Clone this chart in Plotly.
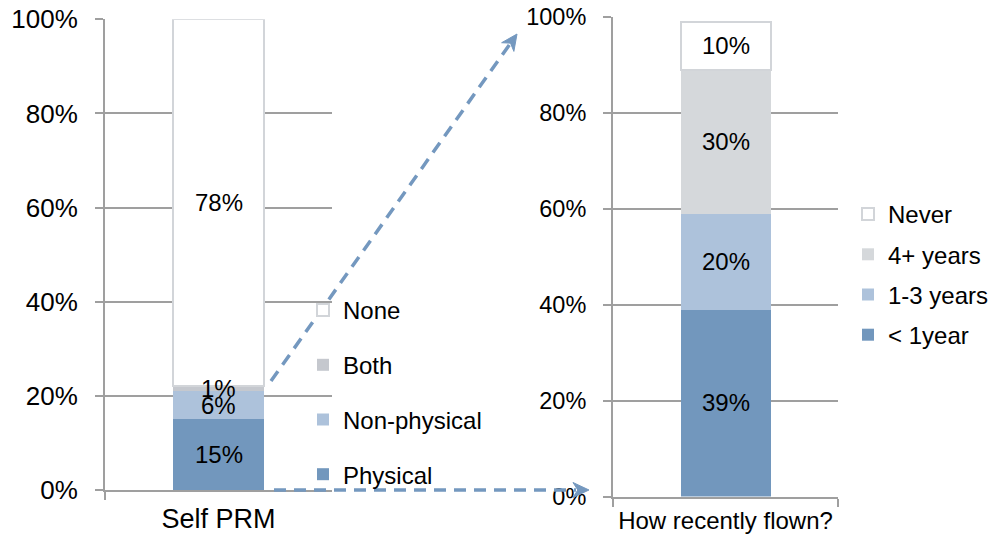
import plotly.graph_objects as go

# ---- data -------------------------------------------------------------
prm_category = ["Self PRM"]
prm_series = ["Physical", "Non-physical", "Both", "None"]
prm_values = [15, 6, 1, 78]
prm_colors = ["#7297bd", "#adc2db", "#c5c8ce", "#ffffff"]

flown_category = ["How recently flown?"]
flown_series = ["< 1year", "1-3 years", "4+ years", "Never"]
flown_values = [39, 20, 30, 10]
flown_colors = ["#7297bd", "#adc2db", "#d5d8db", "#ffffff"]

y_ticks = [0, 20, 40, 60, 80, 100]
y_tick_labels = [f"{v}%" for v in y_ticks]

# ---- canvas geometry ----------------------------------------------------
W, H = 997, 543
FONT = "Liberation Sans, Arial, Helvetica, sans-serif"
GRID = "#9f9f9f"
OUTLINE = "#d2d5d9"
ARROW = "#7498bf"


def px(x):
    return x / W


def py(y):
    return 1 - y / H


fig = go.Figure()


def add_stack(categories, names, values, colors, xa, ya, legend):
    base = 0
    n = len(names)
    for i, (name, val, col) in enumerate(zip(names, values, colors)):
        fig.add_trace(go.Bar(
            x=categories, y=[val], name=name,
            marker=dict(color=col,
                        line=dict(color=OUTLINE if col == "#ffffff" else col,
                                  width=2 if col == "#ffffff" else 0)),
            width=0.4, xaxis=xa, yaxis=ya, legend=legend,
            legendgroup=legend + name, legendrank=n - i, hoverinfo="skip",
        ))
        # value label centred in its segment
        fig.add_annotation(
            x=categories[0], y=base + val / 2, xref=xa, yref=ya,
            text=f"{val}%", showarrow=False,
            font=dict(family=FONT, size=24, color="#000000"),
        )
        base += val


add_stack(prm_category, prm_series, prm_values, prm_colors, "x", "y", "legend")
add_stack(flown_category, flown_series, flown_values, flown_colors, "x2", "y2", "legend2")

# ---- dashed connector arrows ------------------------------------------------
def arrow(x0, y0, tip_x, tip_y, head_len=16, head_w=15):
    dx, dy = tip_x - x0, tip_y - y0
    n = (dx * dx + dy * dy) ** 0.5
    ux, uy = dx / n, dy / n
    nx, ny = -uy, ux
    bx, by = tip_x - head_len * ux, tip_y - head_len * uy
    fig.add_shape(type="line", xref="paper", yref="paper",
                  x0=px(x0), y0=py(y0), x1=px(bx + 3 * ux), y1=py(by + 3 * uy),
                  line=dict(color=ARROW, width=3.5, dash="12px,8px"))
    notch_x, notch_y = bx + 0.3 * head_len * ux, by + 0.3 * head_len * uy
    pts = [(tip_x, tip_y),
           (bx + nx * head_w / 2, by + ny * head_w / 2),
           (notch_x, notch_y),
           (bx - nx * head_w / 2, by - ny * head_w / 2)]
    path = "M " + " L ".join(f"{px(a):.5f},{py(b):.5f}" for a, b in pts) + " Z"
    fig.add_shape(type="path", xref="paper", yref="paper", path=path,
                  fillcolor=ARROW, line=dict(color=ARROW, width=1))


arrow(271, 381, 517, 34)
arrow(274, 490, 589, 490)

# ---- axes ---------------------------------------------------------------
def yaxis(domain, anchor, size, standoff):
    return dict(domain=domain, anchor=anchor, range=[0, 100],
                tickmode="array", tickvals=y_ticks, ticktext=y_tick_labels,
                showgrid=True, gridcolor=GRID, gridwidth=2, zeroline=False,
                showline=True, linecolor=GRID, linewidth=2,
                ticks="outside", ticklen=8, tickwidth=2, tickcolor=GRID,
                ticklabelstandoff=standoff, automargin=False,
                tickfont=dict(family=FONT, size=size, color="#000000"),
                fixedrange=True)


def xaxis(domain, anchor, size, standoff):
    return dict(domain=domain, anchor=anchor, type="category", range=[-0.5, 0.5],
                showline=True, linecolor=GRID, linewidth=2,
                ticks="outside", tickson="boundaries", ticklen=8, tickwidth=2,
                tickcolor=GRID, showgrid=False, automargin=False,
                ticklabelstandoff=standoff,
                tickfont=dict(family=FONT, size=size, color="#000000"),
                fixedrange=True)


legend_common = dict(bgcolor="rgba(0,0,0,0)", borderwidth=0,
                     traceorder="grouped", xanchor="left", yanchor="top",
                     font=dict(family=FONT, size=24, color="#000000"))

fig.update_layout(
    width=W, height=H,
    margin=dict(l=0, r=0, t=0, b=0, autoexpand=False),
    paper_bgcolor="#ffffff", plot_bgcolor="rgba(0,0,0,0)",
    barmode="stack", bargap=0,
    font=dict(family=FONT, color="#000000"),
    xaxis=xaxis([px(105), px(332)], "y", 27, 4),
    yaxis=yaxis([py(490), py(19.3)], "x", 26, 12),
    xaxis2=xaxis([px(613), px(838)], "y2", 24, 2),
    yaxis2=yaxis([py(496.5), py(16.7)], "x2", 23.5, 12),
    legend=dict(**legend_common, x=px(303), y=py(288), tracegroupgap=20.5),
    legend2=dict(**legend_common, x=px(848), y=py(192), tracegroupgap=6),
    showlegend=True,
)

fig.write_html("out.html")
